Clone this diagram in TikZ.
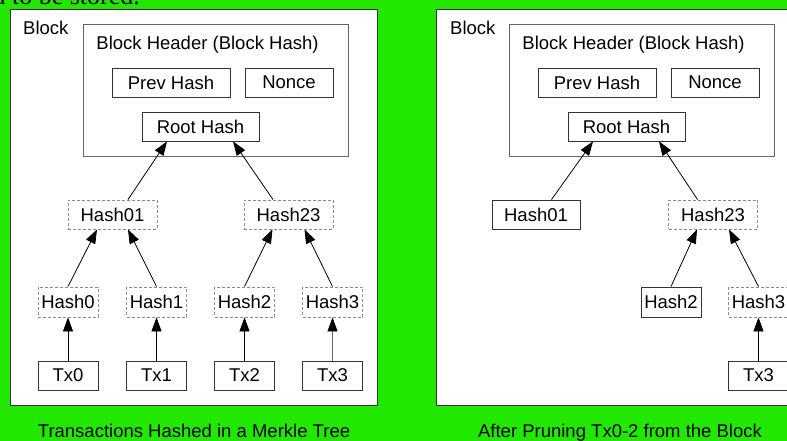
\documentclass[tikz,border=0pt]{standalone}
\RequirePackage{fontspec}
\RequirePackage{tikz}
\usetikzlibrary{arrows.meta}
\setmainfont{Liberation Sans}
\newfontfamily\papertext{Liberation Serif}
\definecolor{screengreen}{RGB}{34,232,0}
\tikzset{
    blockbox/.style={draw=black!80,line width=1pt,fill=white},
    headerbox/.style={draw=black!60,line width=0.9pt},
    hashbox/.style={draw=black!80,line width=0.9pt,minimum height=29pt,inner sep=0pt,font=\fontsize{18.5}{20}\selectfont},
    prunedbox/.style={hashbox,draw=black!45,dash pattern=on 3pt off 2pt},
    labeltext/.style={inner sep=0pt,font=\fontsize{18.5}{20}\selectfont},
    hashlink/.style={line width=0.8pt,-{Triangle[length=14pt,width=10pt,color=black]}}
}
\begin{document}
\begin{tikzpicture}[x=1pt,y=-1pt]
                    \useasboundingbox (0,0) rectangle (787,441);
                    \clip (0,0) rectangle (787,441);
                    \fill[screengreen] (0,0) rectangle (787,441);
                    \node[anchor=base east,inner sep=0pt,font=\papertext\fontsize{26}{28}\selectfont] (papertail) at (140,5) {The interior hashes do not need to be stored.};

                    \node[blockbox,minimum width=367pt,minimum height=395pt] (lblock) at (193.5,207.5) {};
                    \node[labeltext,anchor=base west] (lblocklabel) at (23,35) {Block};
                    \node[headerbox,minimum width=265pt,minimum height=132pt] (lheader) at (215.5,90) {};
                    \node[labeltext,anchor=base] (lheaderlabel) at (207.5,50) {Block Header (Block Hash)};
                    \node[hashbox,minimum width=118pt] (lprev) at (171,82.5) {Prev Hash};
                    \node[hashbox,minimum width=88pt] (lnonce) at (289,82.5) {Nonce};
                    \node[hashbox,minimum width=117pt] (lroot) at (200.5,126.5) {Root Hash};
                    \node[prunedbox,minimum width=89pt] (lh01) at (112.5,214.5) {Hash01};
                    \node[prunedbox,minimum width=89pt] (lh23) at (288.5,214.5) {Hash23};
                    \node[prunedbox,minimum width=60pt,minimum height=30pt] (lh0) at (68,302) {Hash0};
                    \node[prunedbox,minimum width=60pt,minimum height=30pt] (lh1) at (156.5,302) {Hash1};
                    \node[prunedbox,minimum width=60pt,minimum height=30pt] (lh2) at (244.5,302) {Hash2};
                    \node[prunedbox,minimum width=60pt,minimum height=30pt] (lh3) at (332.5,302) {Hash3};
                    \node[hashbox,minimum width=60pt] (ltx0) at (68,375.5) {Tx0};
                    \node[hashbox,minimum width=60pt] (ltx1) at (156.5,375.5) {Tx1};
                    \node[hashbox,minimum width=60pt] (ltx2) at (244.5,375.5) {Tx2};
                    \node[hashbox,minimum width=60pt] (ltx3) at (332.5,375.5) {Tx3};
                    \draw[hashlink] (ltx0) -- (lh0);
                    \draw[hashlink] (ltx1) -- (lh1);
                    \draw[hashlink] (ltx2) -- (lh2);
                    \draw[hashlink,draw=black!60] (ltx3) -- (lh3);
                    \draw[hashlink] (lh0.north) -- ([xshift=-15.5pt]lh01.south);
                    \draw[hashlink] (lh1.north) -- ([xshift=15.5pt]lh01.south);
                    \draw[hashlink] (lh2.north) -- ([xshift=-16pt]lh23.south);
                    \draw[hashlink] (lh3.north) -- ([xshift=16pt]lh23.south);
                    \draw[hashlink] ([xshift=15.5pt]lh01.north) -- ([xshift=-33.5pt]lroot.south);
                    \draw[hashlink] ([xshift=-15.5pt]lh23.north) -- ([xshift=32.5pt]lroot.south);
                    \node[labeltext,anchor=base] (lcaption) at (194,437) {Transactions Hashed in a Merkle Tree};

                    \begin{scope}[xshift=426pt]
                    \node[blockbox,minimum width=367pt,minimum height=395pt] (rblock) at (193.5,207.5) {};
                    \node[labeltext,anchor=base west] (rblocklabel) at (24,35) {Block};
                    \node[headerbox,minimum width=265pt,minimum height=132pt] (rheader) at (215.5,90) {};
                    \node[labeltext,anchor=base] (rheaderlabel) at (207.5,50) {Block Header (Block Hash)};
                    \node[hashbox,minimum width=118pt] (rprev) at (171,82.5) {Prev Hash};
                    \node[hashbox,minimum width=88pt] (rnonce) at (289,82.5) {Nonce};
                    \node[hashbox,minimum width=117pt] (rroot) at (200.5,126.5) {Root Hash};
                    \node[hashbox,minimum width=88pt] (rh01) at (110,214.5) {Hash01};
                    \node[prunedbox,minimum width=89pt] (rh23) at (287,214.5) {Hash23};
                    \node[hashbox,minimum width=60pt,minimum height=30pt] (rh2) at (245,302) {Hash2};
                    \node[prunedbox,minimum width=60pt,minimum height=30pt] (rh3) at (332.5,302) {Hash3};
                    \node[hashbox,minimum width=60pt] (rtx3) at (332.5,375.5) {Tx3};
                    \draw[hashlink] (rtx3) -- (rh3);
                    \draw[hashlink] (rh2.north) -- ([xshift=-16pt]rh23.south);
                    \draw[hashlink] (rh3.north) -- ([xshift=16pt]rh23.south);
                    \draw[hashlink] ([xshift=15.5pt]rh01.north) -- ([xshift=-33.5pt]rroot.south);
                    \draw[hashlink] ([xshift=-15.5pt]rh23.north) -- ([xshift=32.5pt]rroot.south);
                    \node[labeltext,anchor=base] (rcaption) at (194,437) {After Pruning Tx0-2 from the Block};
                    \end{scope}
\end{tikzpicture}
\end{document}
